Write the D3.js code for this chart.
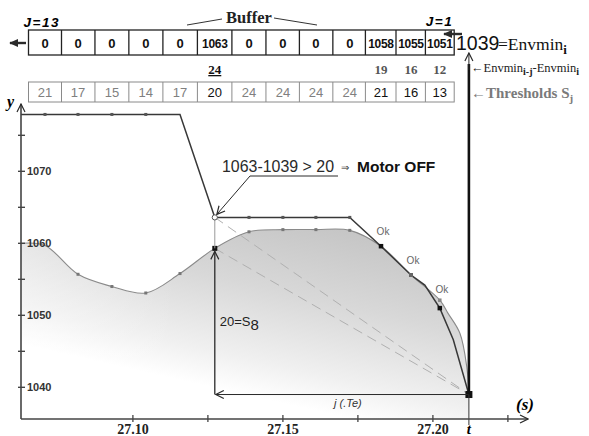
<!DOCTYPE html>
<head>
    <meta charset="utf-8">
    <script src="https://d3js.org/d3.v7.min.js"></script>
    <style>
        *{ margin:0; padding:0; }
        body{ background:#fff; }
        svg{ display:block; }
        text{ font-family:'Liberation Sans', Arial, sans-serif; }
        .serif{ font-family:'Liberation Serif', 'Times New Roman', serif; }
        .narrow{ font-family:'Liberation Sans Narrow', 'Arial Narrow', 'Liberation Sans', sans-serif; }
    </style>
</head>
<body>
<svg id="viz"></svg>
<script>

    //sample instants (s) for j=13 ... j=1, last one is current t
    let sampleT = [27.0707, 27.0817, 27.0930, 27.1043, 27.1157, 27.1273, 27.1387,
                   27.1500, 27.1610, 27.1723, 27.1827, 27.1927, 27.2023, 27.2120];

    //buffer contents and thresholds S_j (j=13 ... j=1)
    let bufferVals = ['0','0','0','0','0','1063','0','0','0','0','1058','1055','1051'];
    let thresholds = [21, 17, 15, 14, 17, 20, 24, 24, 24, 24, 21, 16, 13];
    let diffLabels = ['', '', '', '', '', '24', '', '', '', '', '19', '16', '12'];
    let envMin = 1039;

    //upper (black) envelope
    let upperT = [27.0627, 27.0707, 27.0817, 27.0930, 27.1043, 27.1157, 27.1273, 27.1387, 27.1500,
                  27.1610, 27.1723, 27.1827, 27.1927, 27.1973, 27.2023, 27.2068, 27.2120];
    let upperV = [1077.9, 1077.9, 1077.9, 1077.9, 1077.9, 1077.9, 1063.6, 1063.6, 1063.6,
                  1063.6, 1063.6, 1059.6, 1055.6, 1054.2, 1051.0, 1046.6, 1039.0];

    //lower (gray) curve
    let lowerT = [27.0627, 27.0707, 27.0817, 27.0930, 27.1043, 27.1157, 27.1273, 27.1387, 27.1500,
                  27.1610, 27.1723, 27.1827, 27.1927, 27.2023, 27.2050, 27.2090, 27.2113, 27.2120];
    let lowerV = [1060.0, 1059.7, 1055.7, 1054.0, 1053.1, 1055.8, 1059.3, 1061.6, 1061.9,
                  1061.9, 1061.8, 1059.6, 1055.6, 1052.1, 1050.3, 1047.5, 1042.8, 1039.0];

    //axis ticks
    let yMajor = [1040, 1050, 1060, 1070];
    let yMinor = [1045, 1055, 1065, 1075];
    let xMajor = [27.10, 27.15, 27.20];
    let xMinor = [27.125, 27.175, 27.225];


    let svg = d3.select('#viz').attr('width', 589).attr('height', 436);

    let x = d3.scaleLinear().domain([27.0627, 27.2317]).range([21, 528]);
    let y = d3.scaleLinear().domain([1035.6, 1078.1]).range([419, 113]);

    let ink = '#2a2a2a';


    //defs : arrows + shading
    let defs = svg.append('defs');

    let mk = (id, d, fill, size) => defs.append('marker')
        .attr('id', id)
        .attr('viewBox', '0 0 10 10')
        .attr('refX', 9).attr('refY', 5)
        .attr('markerUnits', 'userSpaceOnUse')
        .attr('markerWidth', size).attr('markerHeight', size)
        .attr('orient', 'auto-start-reverse')
        .append('path')
        .attr('d', d)
        .attr('fill', fill)
        .attr('stroke', fill == 'none' ? ink : 'none')
        .attr('stroke-width', 1.2);

    mk('open', 'M1,1 L9,5 L1,9', 'none', 10);
    mk('fill', 'M0,0.5 L10,5 L0,9.5 Z', ink, 9);

    let grad = defs.append('linearGradient')
        .attr('id', 'shade')
        .attr('gradientUnits', 'userSpaceOnUse')
        .attr('x1', 330).attr('y1', 228).attr('x2', 290).attr('y2', 405);
    grad.append('stop').attr('offset', 0).attr('stop-color', '#c6c6c6');
    grad.append('stop').attr('offset', 0.4).attr('stop-color', '#d8d8d8');
    grad.append('stop').attr('offset', 0.8).attr('stop-color', '#f0f0f0');
    grad.append('stop').attr('offset', 1).attr('stop-color', '#ffffff');

    let fadeL = defs.append('linearGradient')
        .attr('id', 'fadeL')
        .attr('x1', 0).attr('x2', 1).attr('y1', 0).attr('y2', 0);
    fadeL.append('stop').attr('offset', 0).attr('stop-color', '#fff').attr('stop-opacity', 0.35);
    fadeL.append('stop').attr('offset', 0.35).attr('stop-color', '#fff').attr('stop-opacity', 0);


    //shaded area under the gray curve
    let lower = lowerT.map((t, i) => [t, lowerV[i]]);
    let upper = upperT.map((t, i) => [t, upperV[i]]);

    let area = d3.area()
        .x(d => x(d[0]))
        .y0(y(1035.6))
        .y1(d => y(d[1]))
        .curve(d3.curveCatmullRom.alpha(0.5));

    svg.append('path').attr('d', area(lower)).attr('fill', 'url(#shade)');
    svg.append('path').attr('d', area(lower)).attr('fill', 'url(#fadeL)');


    //dashed guides to the current minimum
    let tNow = sampleT[13];
    [[sampleT[5], upperV[6]], [sampleT[5], lowerV[6]]].forEach(p => {
        svg.append('line')
            .attr('x1', x(p[0])).attr('y1', y(p[1]))
            .attr('x2', x(tNow)).attr('y2', y(envMin))
            .attr('stroke', '#b0b0b0').attr('stroke-width', 1)
            .attr('stroke-dasharray', '10,6');
    });


    //lower curve
    let line = d3.line().x(d => x(d[0])).y(d => y(d[1]));

    svg.append('path')
        .attr('d', line.curve(d3.curveCatmullRom.alpha(0.5))(lower))
        .attr('fill', 'none').attr('stroke', '#8a8a8a').attr('stroke-width', 1.1);

    //upper envelope
    svg.append('path')
        .attr('d', d3.line().x(d => x(d[0])).y(d => y(d[1]))(upper))
        .attr('fill', 'none').attr('stroke', '#383838').attr('stroke-width', 1.5);


    //small sample markers
    let sq = (t, v, s, c) => svg.append('rect')
        .attr('x', x(t) - s / 2).attr('y', y(v) - s / 2)
        .attr('width', s).attr('height', s).attr('fill', c);

    [1, 2, 3, 4].forEach(i => sq(upperT[i], upperV[i], 3, '#555'));
    [7, 8, 9, 10].forEach(i => sq(upperT[i], upperV[i], 3, '#555'));
    [2, 3, 4, 5, 7, 8, 9, 10].forEach(i => sq(lowerT[i], lowerV[i], 3, '#777'));
    sq(lowerT[13], lowerV[13], 3.5, '#888');
    sq(upperT[11], upperV[11], 4.5, '#111');
    sq(upperT[12], upperV[12], 4, '#666');
    sq(upperT[14], upperV[14], 4.5, '#111');
    sq(lowerT[6], lowerV[6], 5, '#111');
    sq(tNow, envMin, 7, '#111');

    //thin link between the two values at j=8
    svg.append('line')
        .attr('x1', x(sampleT[5])).attr('y1', y(upperV[6]))
        .attr('x2', x(sampleT[5])).attr('y2', y(lowerV[6]))
        .attr('stroke', '#999').attr('stroke-width', 1);

    svg.append('circle')
        .attr('cx', x(sampleT[5])).attr('cy', y(upperV[6])).attr('r', 2.6)
        .attr('fill', '#fff').attr('stroke', '#555').attr('stroke-width', 1);


    //Ok labels
    [11, 12, 13].forEach(i => {
        svg.append('text')
            .attr('x', x(lowerT[i]) + 2).attr('y', y(lowerV[i]) - (i == 13 ? 7 : 11))
            .attr('text-anchor', 'middle')
            .attr('font-size', 10).attr('fill', '#666')
            .text('Ok');
    });


    //20 = S8 arrow and j(.Te) arrow
    svg.append('line')
        .attr('x1', x(sampleT[5])).attr('y1', y(envMin))
        .attr('x2', x(sampleT[5])).attr('y2', y(lowerV[6]) + 3)
        .attr('stroke', ink).attr('stroke-width', 1.3)
        .attr('marker-end', 'url(#open)');

    svg.append('line')
        .attr('x1', x(tNow)).attr('y1', y(envMin))
        .attr('x2', x(sampleT[5]) + 1).attr('y2', y(envMin))
        .attr('stroke', ink).attr('stroke-width', 1)
        .attr('marker-end', 'url(#open)');

    let s8 = svg.append('text')
        .attr('x', x(sampleT[5]) + 5).attr('y', 326)
        .attr('font-size', 13).attr('fill', '#222');
    s8.append('tspan').text('20=S');
    s8.append('tspan').attr('dy', 4).attr('font-size', 15).text('8');

    svg.append('text')
        .attr('x', (x(sampleT[5]) + x(tNow)) / 2 + 6).attr('y', 407)
        .attr('text-anchor', 'middle')
        .attr('font-size', 11).attr('font-style', 'italic').attr('fill', '#333')
        .text('j (.Te)');


    //annotation
    svg.append('text')
        .attr('x', 222).attr('y', 172)
        .attr('font-size', 17).attr('fill', '#2a2a2a')
        .attr('textLength', 112).attr('lengthAdjust', 'spacingAndGlyphs')
        .text('1063-1039 > 20');
    svg.append('text')
        .attr('x', 341).attr('y', 171)
        .attr('font-size', 10).attr('fill', '#2a2a2a')
        .text('⇒');
    svg.append('text')
        .attr('x', 357).attr('y', 172)
        .attr('font-size', 15.5).attr('font-weight', 'bold').attr('fill', '#111')
        .text('Motor OFF');

    svg.append('polyline')
        .attr('points', [[338, 176], [250, 176], [x(sampleT[5]) + 2, y(upperV[6]) - 3]].join(' '))
        .attr('fill', 'none').attr('stroke', ink).attr('stroke-width', 1)
        .attr('marker-end', 'url(#open)');


    //current t vertical line
    svg.append('line')
        .attr('x1', x(tNow)).attr('y1', 64).attr('x2', x(tNow)).attr('y2', y(envMin))
        .attr('stroke', '#111').attr('stroke-width', 2.6);
    svg.append('line')
        .attr('x1', x(tNow)).attr('y1', y(envMin)).attr('x2', x(tNow)).attr('y2', 425)
        .attr('stroke', '#333').attr('stroke-width', 1);
    svg.append('line')
        .attr('x1', x(tNow)).attr('y1', 70).attr('x2', x(tNow)).attr('y2', 53)
        .attr('stroke', ink).attr('stroke-width', 1)
        .attr('marker-end', 'url(#open)');


    //axes
    svg.append('line')
        .attr('x1', x(27.0627)).attr('y1', y(1035.6)).attr('x2', x(27.0627)).attr('y2', 104)
        .attr('stroke', '#444').attr('stroke-width', 1.6)
        .attr('marker-end', 'url(#open)');
    svg.append('line')
        .attr('x1', x(27.0627)).attr('y1', y(1035.6)).attr('x2', x(27.2317)).attr('y2', y(1035.6))
        .attr('stroke', '#444').attr('stroke-width', 1.6)
        .attr('marker-end', 'url(#open)');

    yMajor.concat(yMinor).forEach(v => {
        svg.append('line')
            .attr('x1', x(27.0627) - 3).attr('x2', x(27.0627) + 4)
            .attr('y1', y(v)).attr('y2', y(v))
            .attr('stroke', '#444').attr('stroke-width', 1.4);
    });
    yMajor.forEach(v => {
        svg.append('text')
            .attr('class', 'narrow')
            .attr('x', x(27.0627) + 6).attr('y', y(v) + 4)
            .attr('font-size', 11).attr('font-weight', 'bold').attr('fill', '#333')
            .text(v);
    });

    xMajor.concat(xMinor).forEach(t => {
        svg.append('line')
            .attr('x1', x(t)).attr('x2', x(t))
            .attr('y1', y(1035.6) - 4).attr('y2', y(1035.6) + 3)
            .attr('stroke', '#444').attr('stroke-width', 1.3);
    });
    xMajor.forEach(t => {
        svg.append('text')
            .attr('class', 'serif')
            .attr('x', x(t)).attr('y', 434)
            .attr('text-anchor', 'middle')
            .attr('font-size', 14).attr('font-weight', 'bold').attr('fill', '#222')
            .text(t.toFixed(2));
    });

    svg.append('text').attr('class', 'serif')
        .attr('x', x(tNow)).attr('y', 434).attr('text-anchor', 'middle')
        .attr('font-size', 15).attr('font-weight', 'bold').attr('font-style', 'italic')
        .text('t');
    svg.append('text').attr('class', 'serif')
        .attr('x', 525).attr('y', 410).attr('text-anchor', 'middle')
        .attr('font-size', 17).attr('font-weight', 'bold').attr('font-style', 'italic')
        .text('(s)');
    svg.append('text').attr('class', 'serif')
        .attr('x', 7).attr('y', 107)
        .attr('font-size', 16).attr('font-weight', 'bold').attr('font-style', 'italic')
        .text('y');


    //buffer and threshold rows
    let cx = sampleT.slice(0, 13).map(t => x(t));
    let edges = cx.map((c, i) => i == 0 ? c - (cx[1] - cx[0]) / 2 : (cx[i - 1] + c) / 2);
    edges.push(cx[12] + (cx[12] - cx[11]) / 2);

    let bufTop = 30, bufH = 25, thTop = 82, thH = 20;

    svg.append('rect')
        .attr('x', edges[0]).attr('y', bufTop)
        .attr('width', edges[13] - edges[0]).attr('height', bufH)
        .attr('fill', '#fff').attr('stroke', '#222').attr('stroke-width', 1.3);
    svg.append('rect')
        .attr('x', edges[0]).attr('y', thTop)
        .attr('width', edges[13] - edges[0]).attr('height', thH)
        .attr('fill', '#fff').attr('stroke', '#8a8a8a').attr('stroke-width', 1);

    edges.slice(1, 13).forEach(e => {
        svg.append('line').attr('x1', e).attr('x2', e)
            .attr('y1', bufTop).attr('y2', bufTop + bufH)
            .attr('stroke', '#222').attr('stroke-width', 1.3);
        svg.append('line').attr('x1', e).attr('x2', e)
            .attr('y1', thTop).attr('y2', thTop + thH)
            .attr('stroke', '#8a8a8a').attr('stroke-width', 1);
    });

    bufferVals.forEach((v, i) => {
        svg.append('text')
            .attr('x', cx[i]).attr('y', bufTop + 17.5)
            .attr('text-anchor', 'middle')
            .attr('font-size', v.length > 1 ? 12 : 13).attr('font-weight', 'bold').attr('fill', '#111')
            .attr('letter-spacing', v.length > 1 ? -0.3 : 0)
            .text(v);
    });

    thresholds.forEach((v, i) => {
        let hot = diffLabels[i] != '';
        svg.append('text')
            .attr('x', cx[i]).attr('y', thTop + 15)
            .attr('text-anchor', 'middle')
            .attr('font-size', 13).attr('fill', hot ? '#111' : '#808080')
            .text(v);
    });

    diffLabels.forEach((v, i) => {
        if (v == '') return;
        svg.append('text')
            .attr('class', 'serif')
            .attr('x', cx[i]).attr('y', 74)
            .attr('text-anchor', 'middle')
            .attr('font-size', 13).attr('font-weight', 'bold')
            .attr('fill', i == 5 ? '#111' : '#555')
            .attr('text-decoration', i == 5 ? 'underline' : null)
            .text(v);
    });

    //J labels, buffer title, shift arrows
    svg.append('text')
        .attr('x', edges[0] - 5).attr('y', 27)
        .attr('font-size', 13.5).attr('font-weight', 'bold').attr('font-style', 'italic')
        .attr('letter-spacing', 1.5)
        .text('J=13');
    svg.append('text')
        .attr('x', cx[12] - 14).attr('y', 26)
        .attr('font-size', 13.5).attr('font-weight', 'bold').attr('font-style', 'italic')
        .attr('letter-spacing', 1.5)
        .text('J=1');

    svg.append('text').attr('class', 'serif')
        .attr('x', 249).attr('y', 23).attr('text-anchor', 'middle')
        .attr('font-size', 16.5).attr('font-weight', 'bold').attr('fill', '#222')
        .text('Buffer');
    svg.append('line').attr('x1', 187).attr('y1', 25).attr('x2', 222).attr('y2', 19)
        .attr('stroke', '#333').attr('stroke-width', 1);
    svg.append('line').attr('x1', 274).attr('y1', 18).attr('x2', 317).attr('y2', 25)
        .attr('stroke', '#333').attr('stroke-width', 1);

    svg.append('line').attr('x1', 26).attr('y1', 43).attr('x2', 10).attr('y2', 43)
        .attr('stroke', ink).attr('stroke-width', 2.4).attr('marker-end', 'url(#fill)');
    svg.append('line').attr('x1', 462).attr('y1', 34).attr('x2', 444).attr('y2', 34)
        .attr('stroke', ink).attr('stroke-width', 2.4).attr('marker-end', 'url(#fill)');


    //right side labels
    svg.append('text')
        .attr('x', 456).attr('y', 50)
        .attr('font-size', 19.5).attr('fill', '#111')
        .text(envMin);
    let em = svg.append('text').attr('class', 'serif')
        .attr('x', 498).attr('y', 50)
        .attr('font-size', 17.5).attr('fill', '#111');
    em.append('tspan').text('=Envmin');
    em.append('tspan').attr('dy', 4).attr('font-size', 13).attr('font-weight', 'bold').text('i');

    let ed = svg.append('text').attr('class', 'serif')
        .attr('x', 471).attr('y', 72)
        .attr('font-size', 12.5).attr('fill', '#222');
    ed.append('tspan').text('←Envmin');
    ed.append('tspan').attr('dy', 3).attr('font-size', 10).attr('font-weight', 'bold').text('i-j');
    ed.append('tspan').attr('dy', -3).text('-Envmin');
    ed.append('tspan').attr('dy', 3).attr('font-size', 10).attr('font-weight', 'bold').text('i');

    let th = svg.append('text').attr('class', 'serif')
        .attr('x', 471).attr('y', 98)
        .attr('font-size', 15).attr('font-weight', 'bold').attr('fill', '#7a7a7a');
    th.append('tspan').text('←Thresholds S');
    th.append('tspan').attr('dy', 4).attr('font-size', 11).text('j');

</script>
</body>
